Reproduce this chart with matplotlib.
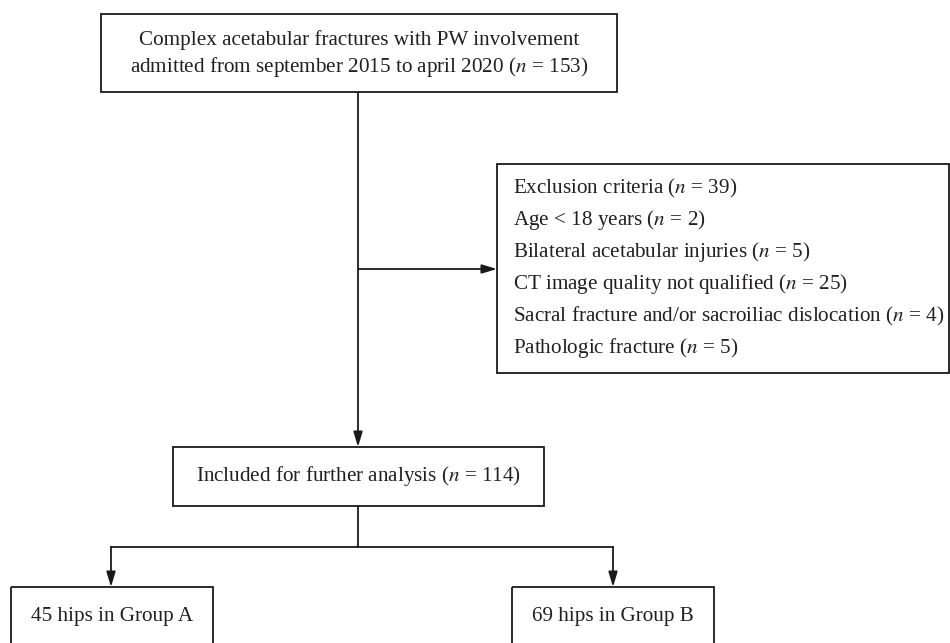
import matplotlib.pyplot as plt
from matplotlib.patches import Rectangle

plt.rcParams['font.family'] = ['Liberation Serif', 'DejaVu Serif']
plt.rcParams['mathtext.fontset'] = 'stix'

# flowchart texts
top_lines = ["Complex acetabular fractures with PW involvement",
             "admitted from september 2015 to april 2020 ($n$ = 153)"]
exclusion_lines = ["Exclusion criteria ($n$ = 39)",
                   "Age < 18 years ($n$ = 2)",
                   "Bilateral acetabular injuries ($n$ = 5)",
                   "CT image quality not qualified ($n$ = 25)",
                   "Sacral fracture and/or sacroiliac dislocation ($n$ = 4)",
                   "Pathologic fracture ($n$ = 5)"]
included_text = "Included for further analysis ($n$ = 114)"
group_texts = ["45 hips in Group A", "69 hips in Group B"]

txt_color = "#231f20"
lw = 1.3
fs = 15.2

fig = plt.figure(figsize=(9.5, 6.43), dpi=100)
ax = fig.add_axes([0, 0, 1, 1])
ax.set_xlim(0, 950)
ax.set_ylim(643, 0)
ax.axis('off')


def box(x0, y0, x1, y1):
    ax.add_patch(Rectangle((x0, y0), x1 - x0, y1 - y0, fill=False,
                           edgecolor="#1a1a1a", lw=lw))


def arrow(x0, y0, x1, y1):
    ax.annotate("", xy=(x1, y1), xytext=(x0, y0),
                arrowprops=dict(arrowstyle="-|>,head_length=0.6,head_width=0.18",
                                mutation_scale=15, color="#1a1a1a", lw=lw,
                                shrinkA=0, shrinkB=0))


# top box
box(101, 14, 617, 92)
for i, t in enumerate(top_lines):
    ax.text(359, 40 + i * 27, t, ha='center', va='center', fontsize=fs, color=txt_color)

# main vertical line with arrow into included box
arrow(358, 92, 358, 447)

# branch to exclusion box
arrow(358, 269, 497, 269)
box(497, 164, 949, 373)
for i, t in enumerate(exclusion_lines):
    ax.text(513, 188 + i * 32, t, ha='left', va='center', fontsize=fs, color=txt_color)

# included box
box(173, 447, 544, 506)
ax.text(358.5, 476, included_text, ha='center', va='center', fontsize=fs, color=txt_color)

# split into groups
ax.plot([358, 358], [506, 547], color="#1a1a1a", lw=lw)
ax.plot([111, 613], [547, 547], color="#1a1a1a", lw=lw)
arrow(111, 547, 111, 587)
arrow(613, 547, 613, 587)

box(11, 587, 213, 660)
box(512, 587, 714, 660)
ax.text(112, 617, group_texts[0], ha='center', va='center', fontsize=fs, color=txt_color)
ax.text(613, 617, group_texts[1], ha='center', va='center', fontsize=fs, color=txt_color)

plt.savefig("out.png", dpi=100)
